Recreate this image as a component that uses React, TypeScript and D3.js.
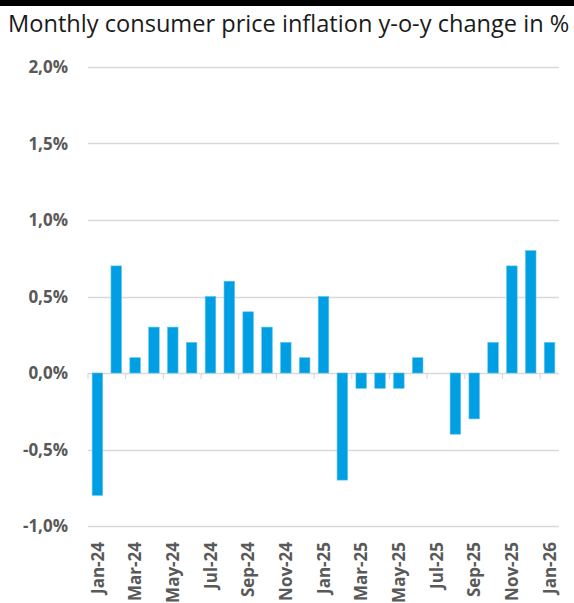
import { useEffect, useRef } from "react";
import * as d3 from "d3";

const months = [
  "Jan-24", "Feb-24", "Mar-24", "Apr-24", "May-24", "Jun-24", "Jul-24", "Aug-24",
  "Sep-24", "Oct-24", "Nov-24", "Dec-24", "Jan-25", "Feb-25", "Mar-25", "Apr-25",
  "May-25", "Jun-25", "Jul-25", "Aug-25", "Sep-25", "Oct-25", "Nov-25", "Dec-25",
  "Jan-26",
];
const inflation = [
  -0.8, 0.7, 0.1, 0.3, 0.3, 0.2, 0.5, 0.6, 0.4, 0.3, 0.2, 0.1, 0.5, -0.7, -0.1,
  -0.1, -0.1, 0.1, 0.0, -0.4, -0.3, 0.2, 0.7, 0.8, 0.2,
];
const yTicks = [-1.0, -0.5, 0.0, 0.5, 1.0, 1.5, 2.0];

const BAR = "#009fe3";
const GRID = "#d9d9d9";
const LABEL = "#595959";
const FONT = "'Open Sans', sans-serif";

export default function App() {
  const ref = useRef<HTMLDivElement>(null);

  useEffect(() => {
    if (!ref.current) return;
    d3.select(ref.current).selectAll("*").remove();

    const W = 574;
    const H = 603;
    const left = 88;
    const right = 559;
    const top = 67;
    const bottom = 526;

    const svg = d3
      .select(ref.current)
      .append("svg")
      .attr("width", W)
      .attr("height", H)
      .style("display", "block")
      .style("font-family", FONT);

    // thick rule above the title
    svg.append("rect").attr("x", 0).attr("y", 0).attr("width", W).attr("height", 6).attr("fill", "#000");

    svg
      .append("text")
      .attr("x", 8)
      .attr("y", 32)
      .attr("font-size", "23.6px")
      .attr("fill", "#1a1a1a")
      .text("Monthly consumer price inflation y-o-y change in %");

    const x = d3.scaleBand<string>().domain(months).range([left, right]).paddingInner(0.44).paddingOuter(0.22);
    const y = d3.scaleLinear().domain([-1, 2]).range([bottom, top]);
    const step = (right - left) / months.length;

    // gridlines
    svg
      .append("g")
      .selectAll("line")
      .data(yTicks)
      .join("line")
      .attr("x1", left)
      .attr("x2", right)
      .attr("y1", (d) => Math.round(y(d)) + 0.5)
      .attr("y2", (d) => Math.round(y(d)) + 0.5)
      .attr("stroke", GRID)
      .attr("stroke-width", 1.5);

    // y labels
    svg
      .append("g")
      .selectAll("text")
      .data(yTicks)
      .join("text")
      .attr("x", 68)
      .attr("y", (d) => y(d))
      .attr("dy", "0.36em")
      .attr("text-anchor", "end")
      .attr("font-size", "17px")
      .attr("font-weight", 700)
      .attr("fill", LABEL)
      .text((d) => d3.format(".1f")(d).replace(".", ",").replace("−", "-") + "%");

    // bars
    svg
      .append("g")
      .selectAll("rect")
      .data(inflation)
      .join("rect")
      .attr("x", (_, i) => x(months[i])!)
      .attr("width", x.bandwidth())
      .attr("y", (d) => y(Math.max(0, d)))
      .attr("height", (d) => Math.abs(y(d) - y(0)))
      .attr("fill", BAR)
      .attr("stroke", "#5cc3ee")
      .attr("stroke-width", 0.6);

    // x tick marks every two months
    const tickIdx = d3.range(0, months.length + 1, 2);
    svg
      .append("g")
      .selectAll("line")
      .data(tickIdx)
      .join("line")
      .attr("x1", (i) => left + i * step)
      .attr("x2", (i) => left + i * step)
      .attr("y1", y(0))
      .attr("y2", y(0) + 6)
      .attr("stroke", GRID)
      .attr("stroke-width", 1.2);

    // x labels
    const y0 = bottom + 16;
    svg
      .append("g")
      .selectAll("text")
      .data(months.filter((_, i) => i % 2 === 0))
      .join("text")
      .attr("transform", (d) => `translate(${x(d)! + x.bandwidth() / 2},${y0}) rotate(-90)`)
      .attr("text-anchor", "end")
      .attr("dy", "0.36em")
      .attr("font-size", "17px")
      .attr("font-weight", 700)
      .attr("fill", LABEL)
      .text((d) => d);
  }, []);

  return <div ref={ref} style={{ position: "absolute", left: 0, top: 0 }} />;
}
